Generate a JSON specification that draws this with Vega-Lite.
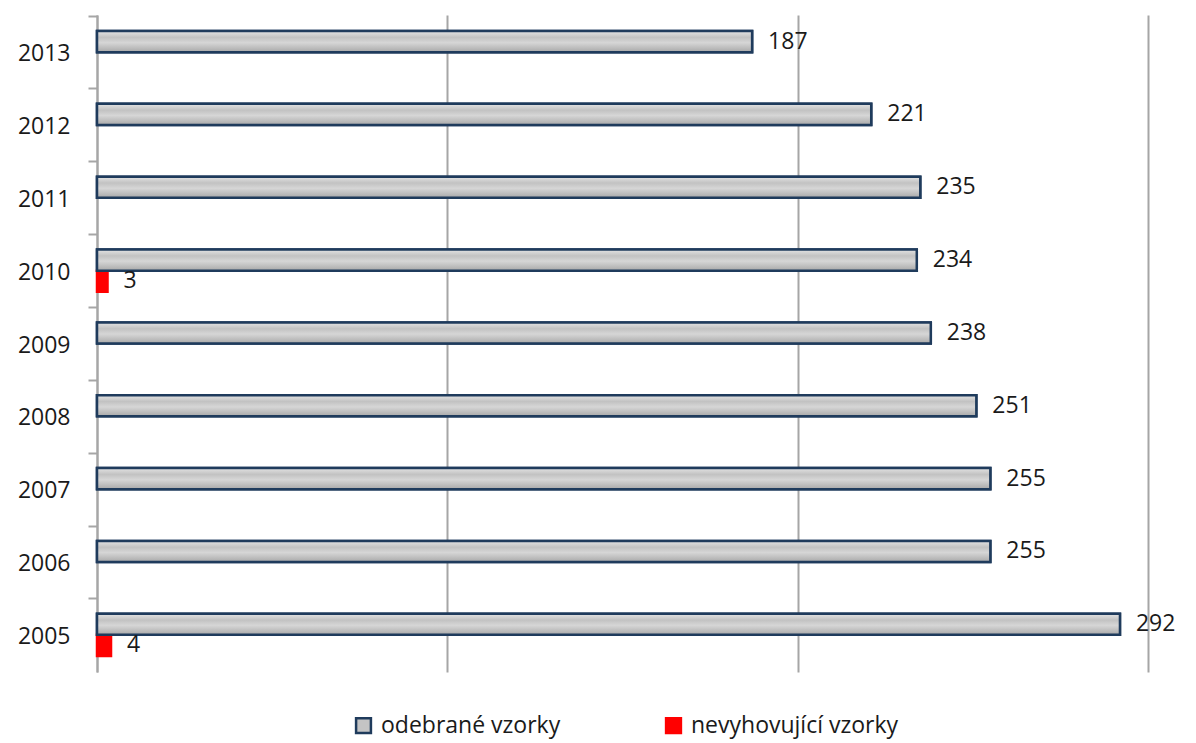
{
  "$schema": "https://vega.github.io/schema/vega-lite/v6.json",
  "autosize": "none",
  "width": 1051,
  "height": 657,
  "padding": {"left": 97, "top": 15, "right": 48, "bottom": 71},
  "background": "white",
  "config": {
    "view": {"stroke": null},
    "font": "Open Sans"
  },
  "data": {
    "values": [
      {"year": "2013", "series": "odebrané vzorky", "value": 187},
      {"year": "2012", "series": "odebrané vzorky", "value": 221},
      {"year": "2011", "series": "odebrané vzorky", "value": 235},
      {"year": "2010", "series": "odebrané vzorky", "value": 234},
      {"year": "2010", "series": "nevyhovující vzorky", "value": 3},
      {"year": "2009", "series": "odebrané vzorky", "value": 238},
      {"year": "2008", "series": "odebrané vzorky", "value": 251},
      {"year": "2007", "series": "odebrané vzorky", "value": 255},
      {"year": "2006", "series": "odebrané vzorky", "value": 255},
      {"year": "2005", "series": "odebrané vzorky", "value": 292},
      {"year": "2005", "series": "nevyhovující vzorky", "value": 4}
    ]
  },
  "encoding": {
    "y": {
      "field": "year", "type": "ordinal", "sort": "descending",
      "scale": {"paddingInner": 0.42, "paddingOuter": 0.22},
      "axis": {
        "title": null, "labelFontSize": 23, "labelColor": "#1a1a1a",
        "tickColor": "#a6a6a6", "tickWidth": 2, "tickSize": 9,
        "domainColor": "#a6a6a6", "domainWidth": 2,
        "tickOffset": -36.5, "labelOffset": 38, "labelPadding": 18
      }
    },
    "x": {
      "field": "value", "type": "quantitative",
      "scale": {"domain": [0, 300], "nice": false},
      "axis": {
        "values": [0, 100, 200, 300], "labels": false, "ticks": false, "domain": false,
        "title": null, "grid": true, "gridColor": "#a6a6a6", "gridWidth": 2
      }
    },
    "yOffset": {
      "field": "series", "type": "nominal",
      "scale": {"domain": ["odebrané vzorky", "nevyhovující vzorky"], "paddingInner": 0, "paddingOuter": 0}
    }
  },
  "layer": [
    {
      "mark": {"type": "bar", "strokeWidth": 2.5},
      "encoding": {
        "color": {
          "field": "series", "type": "nominal",
          "scale": {"domain": ["odebrané vzorky", "nevyhovující vzorky"], "range": ["#c4c4c4", "#ff0000"]},
          "legend": {
            "title": null, "orient": "none", "direction": "horizontal",
            "legendX": 255, "legendY": 699, "labelFontSize": 23, "labelColor": "#1a1a1a",
            "symbolType": "square", "symbolSize": 220, "symbolStrokeWidth": 2.5,
            "columnPadding": 100, "labelOffset": 6, "labelLimit": 500
          }
        },
        "stroke": {
          "field": "series", "type": "nominal",
          "scale": {"domain": ["odebrané vzorky", "nevyhovující vzorky"], "range": ["#1f3b5c", "#ff0000"]},
          "legend": {
            "title": null, "orient": "none", "direction": "horizontal",
            "legendX": 255, "legendY": 699, "labelFontSize": 23, "labelColor": "#1a1a1a",
            "symbolType": "square", "symbolSize": 220, "symbolStrokeWidth": 2.5,
            "columnPadding": 100, "labelOffset": 6, "labelLimit": 500
          }
        }
      }
    },
    {
      "transform": [{"filter": "datum.series === 'odebrané vzorky'"}],
      "mark": {
        "type": "bar", "stroke": "#1f3b5c", "strokeWidth": 2.5,
        "fill": {
          "gradient": "linear", "x1": 0, "y1": 0, "x2": 0, "y2": 1,
          "stops": [
            {"offset": 0, "color": "#e4e4e4"},
            {"offset": 0.3, "color": "#c2c2c2"},
            {"offset": 0.55, "color": "#d6d6d6"},
            {"offset": 0.8, "color": "#bdbdbd"},
            {"offset": 1, "color": "#a8a8a8"}
          ]
        }
      }
    },
    {
      "mark": {"type": "text", "align": "left", "baseline": "middle", "dx": 16, "fontSize": 23, "color": "#1a1a1a"},
      "encoding": {"text": {"field": "value", "type": "quantitative"}}
    }
  ]
}
